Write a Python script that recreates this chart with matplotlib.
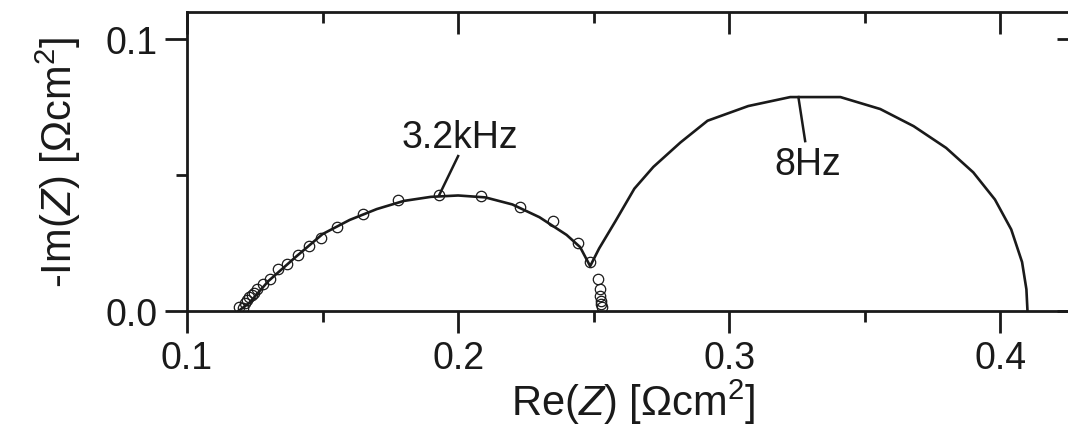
import matplotlib
matplotlib.use("Agg")
import matplotlib.pyplot as plt
from matplotlib.ticker import MultipleLocator, FormatStrFormatter

plt.rcParams["font.family"] = ["Liberation Sans", "DejaVu Sans"]
plt.rcParams["mathtext.fontset"] = "custom"
plt.rcParams["mathtext.rm"] = "Liberation Sans"
plt.rcParams["mathtext.it"] = "Liberation Sans:italic"

INK = "#1a1a1a"

# measured impedance (open circles)
re_meas = [0.1190, 0.1207, 0.1215, 0.1222, 0.1230, 0.1238, 0.1248, 0.1260,
           0.1280, 0.1306, 0.1336, 0.1369, 0.1410, 0.1450, 0.1495, 0.1554,
           0.1649, 0.1779, 0.1930, 0.2085, 0.2229, 0.2351, 0.2443, 0.2487,
           0.2517, 0.2522, 0.2525, 0.2527, 0.2528, 0.2529]
im_meas = [0.0015, 0.0010, 0.0030, 0.0040, 0.0050, 0.0058, 0.0066, 0.0080,
           0.0099, 0.0118, 0.0154, 0.0173, 0.0206, 0.0240, 0.0270, 0.0309,
           0.0357, 0.0408, 0.0426, 0.0423, 0.0382, 0.0331, 0.0250, 0.0180,
           0.0118, 0.0081, 0.0055, 0.0037, 0.0026, 0.0015]

# fitted curve
re_fit = [0.119, 0.123, 0.130, 0.140, 0.150, 0.160, 0.170, 0.180, 0.190,
          0.200, 0.210, 0.220, 0.230, 0.240, 0.245, 0.2487,
          0.252, 0.258, 0.265, 0.272, 0.282, 0.292, 0.307, 0.3225, 0.341,
          0.3557, 0.368, 0.380, 0.390, 0.398, 0.404, 0.408, 0.4096, 0.4100]
im_fit = [0.000, 0.003, 0.0110, 0.0198, 0.0283, 0.0335, 0.0375, 0.0405,
          0.0420, 0.0425, 0.0418, 0.0392, 0.0345, 0.028, 0.0235, 0.0165,
          0.023, 0.033, 0.045, 0.053, 0.062, 0.070, 0.0754, 0.0787, 0.0787,
          0.0743, 0.068, 0.060, 0.051, 0.041, 0.030, 0.018, 0.008, 0.000]

# annotation labels and leader lines
label_text = ["3.2kHz", "8Hz"]
label_pos = [(0.2007, 0.064), (0.329, 0.054)]
leader_start = [(0.2000, 0.0570), (0.3280, 0.0625)]
leader_end = [(0.1930, 0.0426), (0.3255, 0.0787)]

fig = plt.figure(figsize=(10.68, 4.35), dpi=100)
ax = fig.add_axes([187 / 1068, 123 / 435, 892 / 1068, 299 / 435])

ax.plot(re_fit, im_fit, color=INK, linewidth=1.9, zorder=2)
ax.plot(re_meas, im_meas, linestyle="none", marker="o", markersize=7.5,
        markerfacecolor="none", markeredgecolor=INK,
        markeredgewidth=0.9, zorder=3)

for text, pos, p0, p1 in zip(label_text, label_pos, leader_start, leader_end):
    ax.plot([p0[0], p1[0]], [p0[1], p1[1]], color=INK, linewidth=1.8)
    ax.text(pos[0], pos[1], text, ha="center", va="center", fontsize=27,
            color=INK)

ax.set_xlim(0.1, 0.429)
ax.set_ylim(0.0, 0.110)

ax.xaxis.set_major_locator(MultipleLocator(0.1))
ax.xaxis.set_minor_locator(MultipleLocator(0.05))
ax.yaxis.set_major_locator(MultipleLocator(0.1))
ax.yaxis.set_minor_locator(MultipleLocator(0.05))
ax.xaxis.set_major_formatter(FormatStrFormatter("%.1f"))
ax.yaxis.set_major_formatter(FormatStrFormatter("%.1f"))

for side in ["left", "right", "top", "bottom"]:
    ax.spines[side].set_linewidth(2.0)
    ax.spines[side].set_color(INK)

ax.tick_params(axis="x", which="both", direction="out", top=False,
               colors=INK, labelsize=27, width=2.0, pad=5)
ax.tick_params(axis="y", which="both", direction="out", right=False,
               colors=INK, labelsize=27, width=2.0, pad=5)
ax.tick_params(which="major", length=16)
ax.tick_params(which="minor", length=8)

# inward ticks on top and right
top = ax.secondary_xaxis("top")
top.xaxis.set_major_locator(MultipleLocator(0.1))
top.xaxis.set_minor_locator(MultipleLocator(0.05))
top.tick_params(which="both", direction="in", labeltop=False, width=2.0,
                colors=INK)
top.tick_params(which="major", length=16)
top.tick_params(which="minor", length=8)
top.spines["top"].set_visible(False)

right = ax.secondary_yaxis("right")
right.yaxis.set_major_locator(MultipleLocator(0.1))
right.yaxis.set_minor_locator(MultipleLocator(0.05))
right.tick_params(which="both", direction="in", labelright=False, width=2.0,
                  colors=INK)
right.tick_params(which="major", length=16)
right.tick_params(which="minor", length=8)
right.spines["right"].set_visible(False)

ax.set_xlabel("Re($Z$) [Ωcm$^2$]", fontsize=30, color=INK, labelpad=0)
ax.set_ylabel("-Im($Z$) [Ωcm$^2$]", fontsize=30, color=INK, labelpad=16)

fig.savefig("out.png", dpi=100)
